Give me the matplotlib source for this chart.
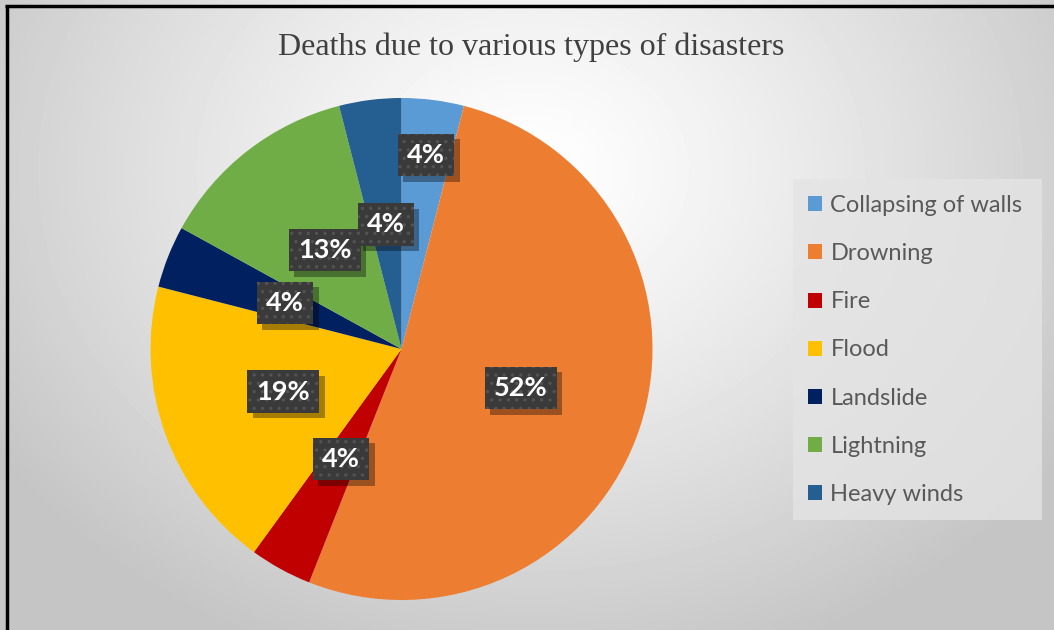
import numpy as np
import matplotlib.pyplot as plt
import matplotlib.patheffects as pe
from matplotlib.patches import Patch, Rectangle

plt.rcParams['font.family'] = ['Lato', 'DejaVu Sans']
plt.rcParams['hatch.linewidth'] = 1.2

causes = ["Collapsing of walls", "Drowning", "Fire", "Flood",
          "Landslide", "Lightning", "Heavy winds"]
shares = [4, 52, 4, 19, 4, 13, 4]
colors = ["#5B9BD5", "#ED7D31", "#C00000", "#FFC000",
          "#002060", "#70AD47", "#255E91"]


class BoxShadow(pe.AbstractPathEffect):
    """Plain dark shadow behind a patch (no hatch copied over)."""

    def __init__(self, offset=(4, -4), alpha=0.35):
        super().__init__(offset)
        self.alpha = alpha

    def draw_path(self, renderer, gc, tpath, affine, rgbFace):
        gc0 = renderer.new_gc()
        gc0.copy_properties(gc)
        gc0.set_hatch(None)
        gc0.set_linewidth(0)
        gc0.set_alpha(self.alpha)
        renderer.draw_path(gc0, tpath, affine + self._offset_transform(renderer),
                           (0, 0, 0))
        gc0.restore()


W, H = 1054, 630
fig = plt.figure(figsize=(W / 100, H / 100), dpi=100)

# soft radial grey background
bg = fig.add_axes([0, 0, 1, 1], zorder=-10)
yy, xx = np.mgrid[0:H, 0:W]
d = np.sqrt(((xx - 530) / 640) ** 2 + ((yy - 170) / 520) ** 2)
shade = 1 - 0.23 * np.clip(d, 0, 1) ** 1.2
bg.imshow(shade, cmap='gray', vmin=0, vmax=1, extent=(0, W, H, 0),
          aspect='auto', interpolation='bilinear')
bg.set_xlim(0, W)
bg.set_ylim(H, 0)
bg.axis('off')
bg.plot([6.5, 6.5], [H, 5.5], color='black', lw=2.5, solid_capstyle='butt')
bg.plot([5.3, W], [5.5, 5.5], color='black', lw=2.5, solid_capstyle='butt')
bg.add_patch(Rectangle((793, 179), 249, 341, facecolor='#e4e4e4',
                       edgecolor='none', alpha=0.8))

fig.text(531 / W, 1 - 47 / H, "Deaths due to various types of disasters",
         ha='center', va='center', fontsize=23, color='#404040',
         family=['Liberation Serif', 'DejaVu Serif'])

# pie
ax = fig.add_axes([150.5 / W, (630 - 349 - 251) / H, 502 / W, 502 / H])
wedges, _, pcts = ax.pie(shares, colors=colors, startangle=90, counterclock=False,
                         autopct=lambda p: f"{p:.0f}%", pctdistance=0.5,
                         wedgeprops=dict(linewidth=0))
ax.set_xlim(-1, 1)
ax.set_ylim(-1, 1)
ax.set_aspect('equal')

# first label sits further out in its thin slice
w0 = wedges[0]
mid = np.deg2rad((w0.theta1 + w0.theta2) / 2)
pcts[0].set_position((0.78 * np.cos(mid), 0.78 * np.sin(mid)))

for t in pcts:
    t.set_color('white')
    t.set_fontsize(19.5)
    t.set_fontweight('bold')
    t.set_bbox(dict(boxstyle='square,pad=0.34', facecolor='#3a3a3a',
                    edgecolor='#535353', linewidth=0, hatch='..'))
    t.get_bbox_patch().set_path_effects([BoxShadow((4, -4), 0.35), pe.Normal()])

handles = [Patch(facecolor=c, edgecolor='none') for c in colors]
fig.legend(handles, causes, loc='center left', bbox_to_anchor=(808 / W, 1 - 350 / H),
           frameon=False, fontsize=17, labelcolor='#595959', borderpad=0,
           borderaxespad=0, handlelength=0.6, handleheight=0.6,
           handletextpad=0.35, labelspacing=1.15)

fig.savefig("out.png", dpi=100)
